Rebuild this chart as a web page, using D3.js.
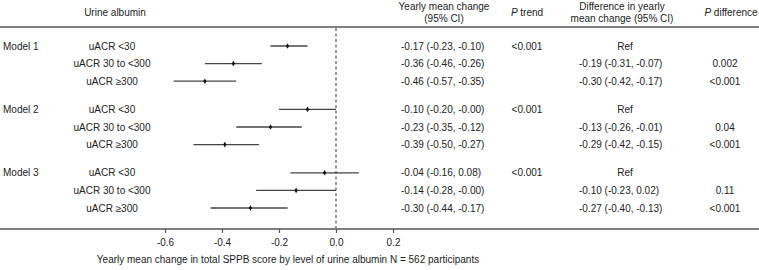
<!DOCTYPE html>
<html>
<head>
<meta charset="utf-8">
<script src="https://cdn.jsdelivr.net/npm/d3@7"></script>
<style>
  body { margin: 0; background: #fff; }
  svg { font-family: "Liberation Sans", Arial, sans-serif; font-size: 10px; fill: #222; }
</style>
</head>
<body>
<svg id="forest" width="759" height="270"></svg>
<script>
// data
const models = ["Model 1", "Model 2", "Model 3"];
const groups = ["uACR <30", "uACR 30 to <300", "uACR \u2265300"];
const estimates = [-0.17, -0.36, -0.46, -0.10, -0.23, -0.39, -0.04, -0.14, -0.30];
const lowers = [-0.23, -0.46, -0.57, -0.20, -0.35, -0.50, -0.16, -0.28, -0.44];
const uppers = [-0.10, -0.26, -0.35, -0.00, -0.12, -0.27, 0.08, -0.00, -0.17];
const pTrend = ["<0.001", "", "", "<0.001", "", "", "<0.001", "", ""];
const diffText = ["Ref", "-0.19 (-0.31, -0.07)", "-0.30 (-0.42, -0.17)",
  "Ref", "-0.13 (-0.26, -0.01)", "-0.29 (-0.42, -0.15)",
  "Ref", "-0.10 (-0.23, 0.02)", "-0.27 (-0.40, -0.13)"];
const pDiff = ["", "0.002", "<0.001", "", "0.04", "<0.001", "", "0.11", "<0.001"];
const xTicks = [-0.6, -0.4, -0.2, 0.0, 0.2];

const svg = d3.select("svg#forest");
const width = +svg.attr("width");
const lineColor = "#555";

// keep the sign of -0.00 like the original table
const fmt2 = (v) => (v < 0 || Object.is(v, -0) ? "-" : "") + Math.abs(v).toFixed(2);
const fmt1 = (v) => (v < 0 ? "-" : "") + Math.abs(v).toFixed(1);

const xScale = d3.scaleLinear().domain([-0.6, 0.2]).range([165, 393]);

// row positions: 3 rows per model with a gap between models
const rows = [];
models.forEach((m, mi) => {
  groups.forEach((g, gi) => {
    const i = mi * 3 + gi;
    rows.push({
      model: gi === 0 ? m : "",
      group: g,
      est: estimates[i],
      lo: lowers[i],
      hi: uppers[i],
      ci: `${fmt2(estimates[i])} (${fmt2(lowers[i])}, ${fmt2(uppers[i])})`,
      pTrend: pTrend[i],
      diff: diffText[i],
      pDiff: pDiff[i],
      slot: mi * 3.6 + gi,
    });
  });
});
const yScale = d3.scaleLinear().domain([0, 9.2]).range([46, 208]);

// header
const header = svg.append("g").attr("class", "header");
header.append("text").attr("x", 115).attr("y", 16).attr("text-anchor", "middle").text("Urine albumin");
header.append("text").attr("x", 444).attr("y", 10).attr("text-anchor", "middle").text("Yearly mean change");
header.append("text").attr("x", 444).attr("y", 22).attr("text-anchor", "middle").text("(95% CI)");
const pt = header.append("text").attr("x", 527).attr("y", 16).attr("text-anchor", "middle");
pt.append("tspan").attr("font-style", "italic").text("P");
pt.append("tspan").text(" trend");
header.append("text").attr("x", 622).attr("y", 10).attr("text-anchor", "middle").text("Difference in yearly");
header.append("text").attr("x", 622).attr("y", 22).attr("text-anchor", "middle").text("mean change (95% CI)");
const pd = header.append("text").attr("x", 731).attr("y", 16).attr("text-anchor", "middle");
pd.append("tspan").attr("font-style", "italic").text("P");
pd.append("tspan").text(" difference");

svg.append("line")
  .attr("x1", 0).attr("x2", width).attr("y1", 27).attr("y2", 27)
  .attr("stroke", lineColor).attr("stroke-width", 1.5);

// reference line at zero
svg.append("line")
  .attr("x1", xScale(0)).attr("x2", xScale(0)).attr("y1", 28).attr("y2", 228)
  .attr("stroke", lineColor).attr("stroke-width", 1.2).attr("stroke-dasharray", "3,2.5");

// rows
const rowG = svg.selectAll("g.row").data(rows).join("g")
  .attr("class", "row")
  .attr("transform", (d) => `translate(0, ${yScale(d.slot)})`);

rowG.append("text").attr("x", 3).attr("dy", "0.35em").text((d) => d.model);
rowG.append("text").attr("x", 112).attr("dy", "0.35em").attr("text-anchor", "middle").text((d) => d.group);
rowG.append("line")
  .attr("x1", (d) => xScale(d.lo)).attr("x2", (d) => xScale(d.hi))
  .attr("stroke", "#444").attr("stroke-width", 1.3);
rowG.append("path")
  .attr("d", d3.symbol().type(d3.symbolDiamond).size(9))
  .attr("transform", (d) => `translate(${xScale(d.est)}, 0)`)
  .attr("fill", "#111");
rowG.append("text").attr("x", 401).attr("dy", "0.35em").text((d) => d.ci);
rowG.append("text").attr("x", 527).attr("dy", "0.35em").attr("text-anchor", "middle").text((d) => d.pTrend);
rowG.append("text")
  .attr("x", (d) => (d.diff === "Ref" ? 625 : 579))
  .attr("dy", "0.35em")
  .attr("text-anchor", (d) => (d.diff === "Ref" ? "middle" : "start"))
  .text((d) => d.diff);
rowG.append("text").attr("x", 725).attr("dy", "0.35em").attr("text-anchor", "middle").text((d) => d.pDiff);

// bottom axis
svg.append("line")
  .attr("x1", 0).attr("x2", width).attr("y1", 229).attr("y2", 229)
  .attr("stroke", lineColor).attr("stroke-width", 1.5);
const xAxis = d3.axisBottom(xScale).tickValues(xTicks).tickFormat(fmt1).tickSize(4).tickPadding(6);
const axisG = svg.append("g").attr("transform", "translate(0, 229)").call(xAxis);
axisG.select(".domain").remove();
axisG.selectAll(".tick line").attr("stroke", lineColor).attr("stroke-width", 1.2);
axisG.selectAll(".tick text").attr("font-size", 10).attr("font-family", "Liberation Sans, Arial, sans-serif").attr("fill", "#222");

svg.append("text")
  .attr("x", 288).attr("y", 263).attr("text-anchor", "middle")
  .text("Yearly mean change in total SPPB score by level of urine albumin N = 562 participants");
</script>
</body>
</html>
